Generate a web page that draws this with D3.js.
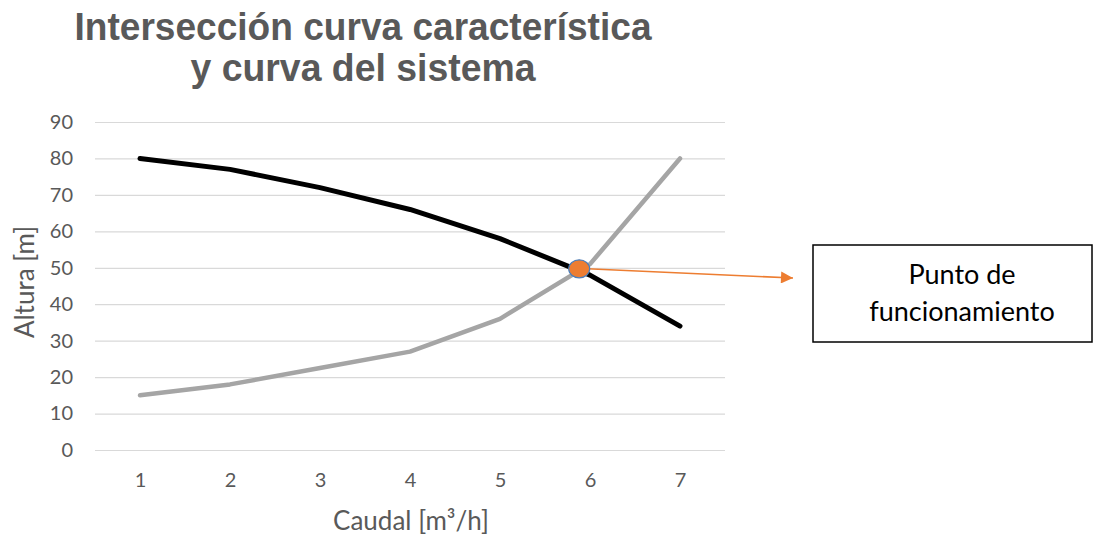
<!DOCTYPE html>
<html><head><meta charset="utf-8">
<script src="https://cdn.jsdelivr.net/npm/d3@7"></script>
<style>body{margin:0;background:#fff}svg{display:block}</style>
</head><body>
<script>
const categories = [1, 2, 3, 4, 5, 6, 7];
const curvaCaracteristica = [80, 77, 72, 66, 58, 48, 34];
const curvaSistema = [15, 18, 22.5, 27, 36, 51, 80];
const yTicks = [0, 10, 20, 30, 40, 50, 60, 70, 80, 90];
const puntoFuncionamiento = [5.88, 49.7];
const titleLines = ["Intersección curva característica", "y curva del sistema"];
const boxLines = ["Punto de", "funcionamiento"];

const W = 1094, H = 535;
const svg = d3.select("body").append("svg").attr("width", W).attr("height", H);
const x = d3.scaleLinear().domain([0.5, 7.5]).range([95, 725]);
const y = d3.scaleLinear().domain([0, 90]).range([450, 122]);
const font = "Lato, 'Open Sans', sans-serif";

// grid
const yAxis = d3.axisLeft(y).tickValues(yTicks).tickSize(-(725 - 95)).tickPadding(22);
const gy = svg.append("g").attr("transform", "translate(95,0)").call(yAxis);
gy.select(".domain").remove();
gy.selectAll(".tick line").attr("stroke", "#d9d9d9").attr("stroke-width", 1.2);
gy.selectAll(".tick text").attr("fill", "#595959").style("font-family", font).style("font-size", "20px");

const xAxis = d3.axisBottom(x).tickValues(categories).tickFormat(d3.format("d")).tickSize(0).tickPadding(23);
const gx = svg.append("g").attr("transform", "translate(0,450)").call(xAxis);
gx.select(".domain").remove();
gx.selectAll(".tick text").attr("fill", "#595959").style("font-family", font).style("font-size", "20px");

// lines
const line = d3.line().x((d, i) => x(categories[i])).y(d => y(d));
svg.append("path").datum(curvaSistema).attr("d", line).attr("fill", "none")
  .attr("stroke", "#a5a5a5").attr("stroke-width", 4.5).attr("stroke-linecap", "round").attr("stroke-linejoin", "round");
svg.append("path").datum(curvaCaracteristica).attr("d", line).attr("fill", "none")
  .attr("stroke", "#000").attr("stroke-width", 5).attr("stroke-linecap", "round").attr("stroke-linejoin", "round");

// arrow
svg.append("defs").append("marker").attr("id", "arr").attr("viewBox", "0 0 10 10")
  .attr("refX", 10).attr("refY", 5).attr("markerWidth", 16).attr("markerHeight", 12)
  .attr("markerUnits", "userSpaceOnUse").attr("orient", "auto")
  .append("path").attr("d", "M0,0 L10,5 L0,10 Z").attr("fill", "#ed7d31");
const px = x(puntoFuncionamiento[0]), py = y(puntoFuncionamiento[1]);
svg.append("line").attr("x1", px + 8).attr("y1", py).attr("x2", 793).attr("y2", 278)
  .attr("stroke", "#ed7d31").attr("stroke-width", 1.5).attr("marker-end", "url(#arr)");
svg.append("ellipse").attr("cx", px).attr("cy", py).attr("rx", 10.5).attr("ry", 9)
  .attr("fill", "#ed7d31").attr("stroke", "#4a7ebb").attr("stroke-width", 1.2);

// box
svg.append("rect").attr("x", 813).attr("y", 245).attr("width", 279).attr("height", 97)
  .attr("fill", "#fff").attr("stroke", "#000").attr("stroke-width", 1.5);
svg.selectAll(".bx").data(boxLines).enter().append("text")
  .attr("x", 962).attr("y", (d, i) => 284 + i * 37).attr("text-anchor", "middle")
  .attr("fill", "#000").style("font-family", font).style("font-size", "27px").text(d => d);

// title
const titleWidths = [577, 345];
svg.selectAll(".tt").data(titleLines).enter().append("text")
  .attr("x", 363).attr("y", (d, i) => 40 + i * 41).attr("text-anchor", "middle")
  .attr("textLength", (d, i) => titleWidths[i]).attr("lengthAdjust", "spacingAndGlyphs")
  .attr("fill", "#595959").style("font-family", "'Liberation Sans Narrow', 'Arial Narrow', 'Liberation Sans', sans-serif")
  .style("font-weight", "bold").style("font-size", "39px").text(d => d);

// axis titles
svg.append("text").attr("x", 411).attr("y", 530).attr("text-anchor", "middle")
  .attr("fill", "#595959").style("font-family", font).style("font-size", "26px").text("Caudal [m³/h]");
svg.append("text").attr("transform", "translate(34,282) rotate(-90)").attr("text-anchor", "middle")
  .attr("fill", "#595959").style("font-family", font).style("font-size", "26px").text("Altura [m]");
</script>
</body></html>
